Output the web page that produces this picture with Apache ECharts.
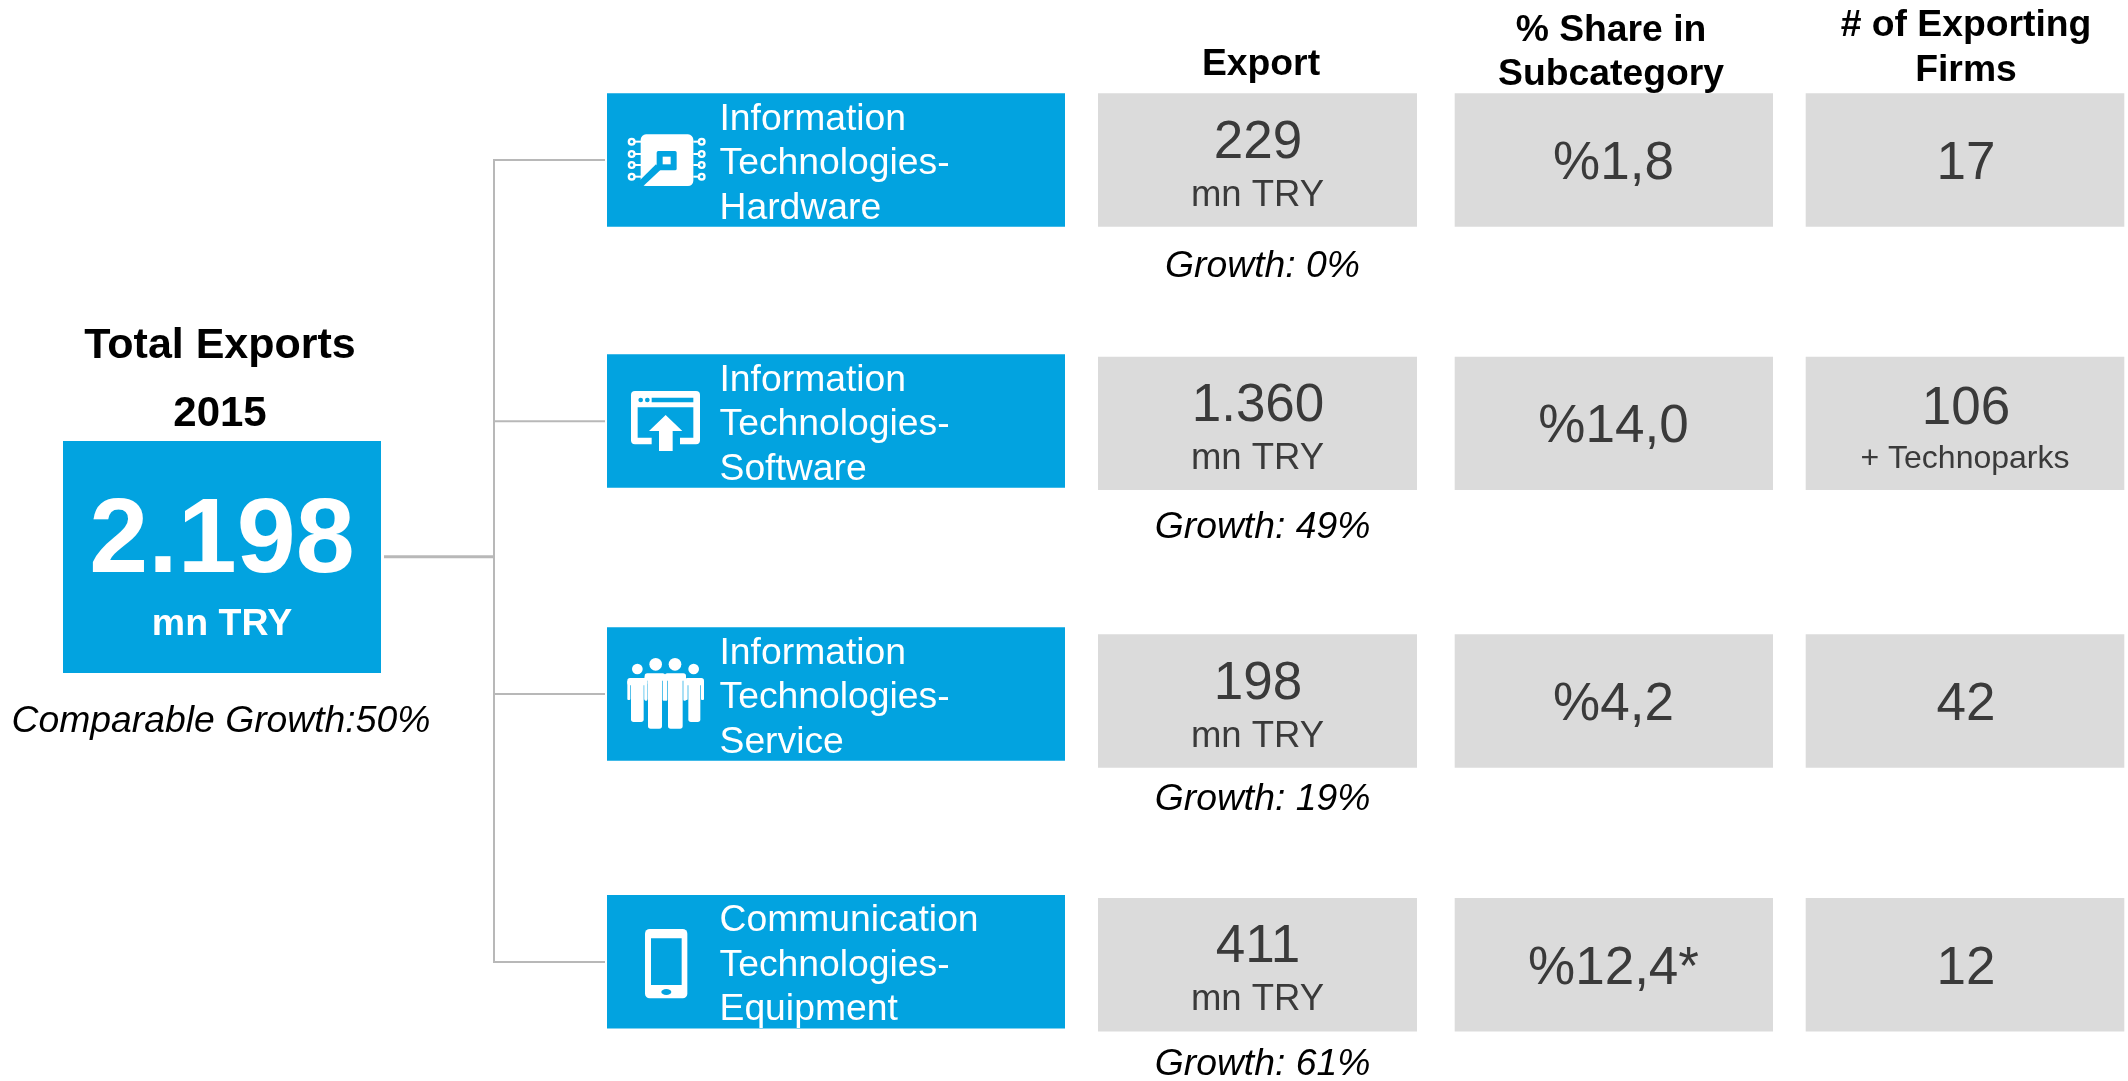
<!DOCTYPE html>
<html>
<head>
<meta charset="utf-8">
<title>Total Exports 2015</title>
<script src="https://cdn.jsdelivr.net/npm/echarts@6/dist/echarts.min.js"></script>
<style>
  html, body { margin: 0; padding: 0; background: #fff; }
  #main { width: 2128px; height: 1081px; }
</style>
</head>
<body>
<div id="main"></div>
<script>
// data
const categories = [
  ['Information', 'Technologies-', 'Hardware'],
  ['Information', 'Technologies-', 'Software'],
  ['Information', 'Technologies-', 'Service'],
  ['Communication', 'Technologies-', 'Equipment']
]
const columnTitles = [['Export'], ['% Share in', 'Subcategory'], ['# of Exporting', 'Firms']]
const exportValues = ['229', '1.360', '198', '411']
const exportUnit = 'mn TRY'
const growthValues = ['Growth: 0%', 'Growth: 49%', 'Growth: 19%', 'Growth: 61%']
const shareValues = ['%1,8', '%14,0', '%4,2', '%12,4*']
const firmValues = ['17', '106', '42', '12']
const firmNotes = ['', '+ Technoparks', '', '']
const totalTitle = 'Total Exports'
const totalYear = '2015'
const totalValue = '2.198'
const totalGrowth = 'Comparable Growth:50%'

// layout, page pixels
const W = 2128, H = 1081
const BLUE = '#02a3e0', GRAY = '#dbdbdb', INK = '#3a3a3a', LINE = '#b8b8b8'
const FONT = '"Liberation Sans", Arial, sans-serif'
const boxX = 607, boxW = 458, rowH = 133.4
const boxTops = [93.3, 354.3, 627.3, 895]
const cellTops = [93.3, 356.7, 634.3, 898]
const branchYs = [160, 421.3, 694, 962]
const growthYs = [277, 537.7, 810, 1075]
const cols = [{ x: 1098, w: 319 }, { x: 1454.7, w: 318.3 }, { x: 1805.7, w: 318.6 }]

// baseline is what was measured, canvas draws from the middle of the em box
function label(api, x, baseline, text, size, fill, weight, anchor) {
  const p = api.coord([x, baseline - size * 0.3465 + 3])
  return {
    type: 'text', x: p[0], y: p[1],
    style: {
      text: text, fill: fill,
      font: (weight || 'normal') + ' ' + size + 'px ' + FONT,
      align: anchor || 'center', verticalAlign: 'middle'
    }
  }
}

function box(api, x, y, w, h, fill) {
  const p = api.coord([x, y])
  return { type: 'rect', shape: { x: p[0], y: p[1], width: w, height: h }, style: { fill: fill } }
}

function wire(api, x1, y1, x2, y2, width) {
  const a = api.coord([x1, y1]), b = api.coord([x2, y2])
  return { type: 'line', shape: { x1: a[0], y1: a[1], x2: b[0], y2: b[1] }, style: { stroke: LINE, lineWidth: width } }
}

// icon parts are drawn in the 3x units of the crops
const r = (x, y, w, h, fill, rad) => ({ type: 'rect', shape: { x, y, width: w, height: h, r: rad || 0 }, style: { fill } })
const c = (cx, cy, rad, fill) => ({ type: 'circle', shape: { cx, cy, r: rad }, style: { fill } })
const poly = (points, fill) => ({ type: 'polygon', shape: { points }, style: { fill } })

function chipIcon() {
  const parts = [r(62, 28, 158, 155, '#fff', 16)]
  ;[50, 87, 120, 155].forEach(y => {
    parts.push(r(40, y - 3, 24, 6, '#fff'), r(220, y - 3, 22, 6, '#fff'))
    parts.push(c(35, y, 12, '#fff'), c(35, y, 5, BLUE), c(245, y, 12, '#fff'), c(245, y, 5, BLUE))
  })
  parts.push(
    r(110, 78, 60, 58, BLUE, 5), r(128, 95, 24, 23, '#fff'),
    poly([[108, 118], [122, 134], [70, 183], [55, 183], [55, 170]], BLUE)
  )
  return parts
}

function windowIcon() {
  return [
    r(93, 138, 207, 160, '#fff', 12),
    c(122, 165, 7, BLUE), c(142, 165, 7, BLUE), r(155, 158, 125, 14, BLUE),
    r(113, 187, 167, 91, BLUE), r(155, 272, 85, 28, BLUE),
    poly([[197, 210], [247, 258], [218, 258], [218, 318], [177, 318], [177, 258], [147, 258]], '#fff')
  ]
}

function person(x0, x1, top, arm, legEnd, armEnd, headX, headR) {
  return [
    c(headX, top - 27, headR, '#fff'),
    r(x0, top, x1 - x0, 22, '#fff', 8),
    r(x0, top + 8, arm, armEnd - top - 8, '#fff', 3),
    r(x1 - arm, top + 8, arm, armEnd - top - 8, '#fff', 3),
    r(x0 + arm + 2, top + 8, x1 - x0 - 2 * arm - 4, legEnd - top - 8, '#fff', 8)
  ]
}

function peopleIcon() {
  return [].concat(
    person(22, 82, 84, 9, 216, 150, 52, 16),
    person(74, 136, 70, 8, 236, 152, 107, 19),
    person(134, 198, 70, 8, 236, 152, 165, 19),
    person(194, 252, 84, 9, 216, 150, 221, 16)
  )
}

function phoneIcon() {
  return [
    r(135, 147, 127, 208, '#fff', 14),
    r(153, 175, 92, 140, BLUE),
    { type: 'ellipse', shape: { cx: 199, cy: 336, rx: 15, ry: 9 }, style: { fill: BLUE } }
  ]
}

const icons = [
  { dx: 13, dy: 31.7, parts: chipIcon },
  { dx: -7, dy: -9.3, parts: windowIcon },
  { dx: 13, dy: 22.7, parts: peopleIcon },
  { dx: -7, dy: -15, parts: phoneIcon }
]

function renderRow(params, api) {
  const i = params.dataIndex
  const top = api.value(1)
  const cellTop = cellTops[i]
  const lineOffsets = [36, 80.5, 125]
  const kids = [box(api, api.value(0), top, boxW, rowH, BLUE)]

  const at = api.coord([boxX + icons[i].dx, top + icons[i].dy])
  kids.push({ type: 'group', x: at[0], y: at[1], scaleX: 1 / 3, scaleY: 1 / 3, children: icons[i].parts() })

  categories[i].forEach((line, k) => {
    kids.push(label(api, 719.5, top + lineOffsets[k], line, 37.3, '#fff', 'normal', 'left'))
  })

  cols.forEach(col => kids.push(box(api, col.x, cellTop, col.w, rowH, GRAY)))

  kids.push(label(api, 1258, cellTop + 65, exportValues[i], 53, INK))
  kids.push(label(api, 1257.5, cellTop + 112, exportUnit, 36.5, INK))
  kids.push(label(api, 1262.5, growthYs[i], growthValues[i], 37.3, '#000', 'italic'))
  kids.push(label(api, 1613.5, cellTop + 86.5, shareValues[i], 53, INK))

  if (firmNotes[i]) {
    kids.push(label(api, 1966, cellTop + 68.3, firmValues[i], 53, INK))
    kids.push(label(api, 1965, cellTop + 111, firmNotes[i], 32, INK))
  } else {
    kids.push(label(api, 1966, cellTop + 86.5, firmValues[i], 53, INK))
  }
  return { type: 'group', children: kids }
}

function renderSummary(params, api) {
  const kids = [
    wire(api, 384, 556.7, 494, 556.7, 3),
    wire(api, 494, branchYs[0] - 1, 494, branchYs[3] + 1, 2)
  ]
  branchYs.forEach(y => kids.push(wire(api, 494, y, 605, y, 2)))
  kids.push(
    box(api, 63, 441, 318, 232, BLUE),
    label(api, 220, 358, totalTitle, 43, '#000', 'bold'),
    label(api, 220, 426, totalYear, 42, '#000', 'bold'),
    label(api, 222, 576, totalValue, 106, '#fff', 'bold'),
    label(api, 222, 635, exportUnit, 37.5, '#fff', 'bold'),
    label(api, 221, 731.7, totalGrowth, 37.3, '#000', 'italic')
  )
  const titleX = [1261, 1611, 1966]
  const titleBase = [[75], [41, 85], [36, 81]]
  columnTitles.forEach((lines, n) => {
    lines.forEach((t, k) => kids.push(label(api, titleX[n], titleBase[n][k], t, 37.3, '#000', 'bold')))
  })
  return { type: 'group', children: kids }
}

const myChart = echarts.init(document.getElementById('main'))
myChart.setOption({
  animation: false,
  backgroundColor: '#fff',
  grid: { left: 0, right: 0, top: 0, bottom: 0 },
  xAxis: { type: 'value', min: 0, max: W, show: false },
  yAxis: { type: 'value', min: 0, max: H, inverse: true, show: false },
  series: [
    { type: 'custom', silent: true, clip: false, renderItem: renderSummary, data: [[0, 0]] },
    { type: 'custom', silent: true, clip: false, renderItem: renderRow, data: boxTops.map(y => [boxX, y]) }
  ]
})
</script>
</body>
</html>
